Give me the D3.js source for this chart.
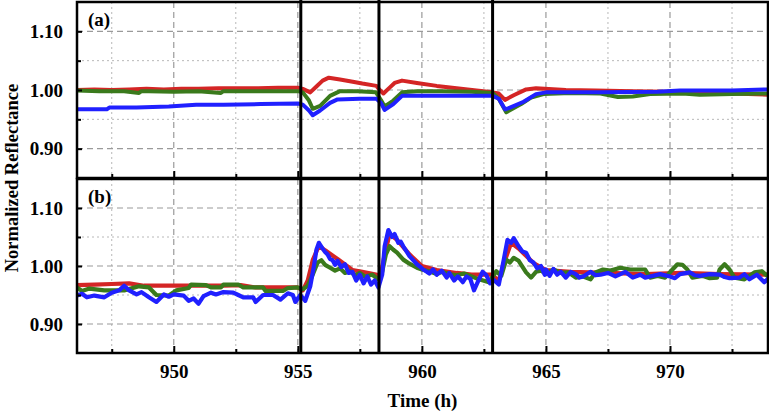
<!DOCTYPE html>
<html>
<head>
<meta charset="utf-8">
<style>
  body { margin: 0; background: #fff; }
  svg text { font-family: "Liberation Serif", "Times New Roman", serif; font-weight: bold; }
</style>
</head>
<body>
<div id="chart"></div>
<script src="https://cdn.jsdelivr.net/npm/d3@7"></script>
<script>
// ---- data (time in h, normalized reflectance) ----
var xMajor = [950, 955, 960, 965, 970];
var xMinor = [947.5, 952.5, 957.5, 962.5, 967.5, 972.5];
var yMajor = [0.90, 1.00, 1.10];
var yMinor = [0.95, 1.05];
var events = [955.12, 958.27, 962.85];
var panelLabels = ["(a)", "(b)"];

var redA = [[946.1,1.000],[946.8,1.001],[947.5,1.000],[948.2,1.001],[948.9,1.002],[949.6,1.001],[950.3,1.002],[951.0,1.002],[951.8,1.003],[952.6,1.003],[953.4,1.003],[954.2,1.004],[955.0,1.004],[955.2,1.002],[955.5,0.996],[955.75,1.006],[956.0,1.016],[956.25,1.021],[956.7,1.018],[957.1,1.015],[957.6,1.011],[958.17,1.007],[958.3,1.000],[958.45,0.994],[958.7,1.004],[958.9,1.012],[959.2,1.016],[959.8,1.012],[960.6,1.007],[961.4,1.003],[962.2,0.999],[962.85,0.996],[963.1,0.994],[963.35,0.983],[963.7,0.991],[964.2,1.001],[964.6,1.003],[965.8,1.000],[967,0.999],[968.5,0.998],[970,0.997],[971.2,0.996],[972.5,0.994],[973.95,0.992]];
var greenA = [[946.1,0.999],[947,0.998],[948,0.998],[948.6,0.995],[948.7,0.998],[949,0.998],[950,0.997],[951,0.998],[951.9,0.995],[952,0.998],[953,0.998],[954,0.998],[955.0,0.998],[955.2,0.996],[955.45,0.982],[955.6,0.968],[955.9,0.973],[956.3,0.990],[956.7,0.998],[957.4,0.998],[958.15,0.996],[958.35,0.983],[958.5,0.972],[958.85,0.982],[959.2,0.996],[959.8,0.998],[960.8,0.998],[962.0,0.997],[962.85,0.995],[963.1,0.985],[963.4,0.962],[964.0,0.976],[964.4,0.987],[964.9,0.993],[966,0.995],[967.2,0.994],[967.9,0.988],[968.5,0.989],[969.2,0.993],[970.5,0.994],[971.2,0.992],[972.5,0.993],[973.95,0.994]];
var blueA = [[946.1,0.967],[946.8,0.967],[947.3,0.967],[947.4,0.970],[948.5,0.970],[949.8,0.972],[950.9,0.975],[952,0.975],[953.5,0.976],[955.0,0.977],[955.2,0.975],[955.45,0.965],[955.6,0.957],[955.9,0.965],[956.3,0.978],[956.6,0.984],[957.5,0.985],[958.17,0.985],[958.35,0.978],[958.5,0.966],[958.85,0.976],[959.2,0.990],[960.5,0.990],[962,0.990],[962.85,0.990],[963.1,0.985],[963.35,0.967],[963.5,0.969],[964.1,0.980],[964.6,0.993],[965,0.996],[967.2,0.996],[969.5,0.997],[970.4,0.999],[972.5,0.999],[973.95,1.001]];

var redB = [[946.1,0.967],[946.8,0.968],[947.5,0.969],[948.2,0.970],[948.8,0.966],[950,0.966],[951,0.966],[952,0.966],[952.7,0.967],[953.3,0.963],[954.3,0.963],[955.0,0.963],[955.2,0.958],[955.4,0.975],[955.6,1.010],[955.85,1.035],[956.1,1.027],[956.6,1.012],[957.2,0.993],[957.6,0.990],[958.2,0.985],[958.3,0.975],[958.5,1.020],[958.7,1.055],[959.0,1.045],[959.5,1.020],[960.0,1.000],[960.6,0.993],[961.4,0.988],[962.0,0.985],[962.8,0.985],[963.1,0.975],[963.35,1.010],[963.6,1.040],[963.9,1.030],[964.5,1.005],[965,0.993],[966,0.990],[967.5,0.988],[969,0.986],[970.5,0.988],[972,0.986],[973.95,0.985]];
var greenB = [[946.1,0.963],[946.3,0.957],[946.6,0.961],[947.2,0.958],[948.0,0.958],[948.6,0.965],[949.0,0.963],[949.3,0.950],[949.8,0.949],[950.1,0.958],[950.6,0.962],[950.7,0.968],[951.3,0.967],[951.5,0.963],[951.9,0.963],[952.0,0.968],[952.6,0.968],[952.8,0.963],[953.6,0.963],[953.7,0.957],[954.4,0.957],[954.6,0.962],[955.0,0.963],[955.2,0.960],[955.4,0.966],[955.6,0.985],[955.8,1.006],[955.95,1.010],[956.1,1.002],[956.3,0.997],[956.5,0.992],[956.7,0.996],[956.9,0.988],[957.1,0.991],[957.3,0.984],[957.5,0.988],[957.7,0.982],[958.0,0.985],[958.25,0.977],[958.4,0.990],[958.55,1.020],[958.7,1.034],[958.85,1.028],[959.0,1.023],[959.25,1.011],[959.5,1.004],[959.8,0.997],[960.0,0.994],[960.3,0.991],[960.6,0.986],[960.8,0.990],[961.1,0.986],[961.4,0.984],[961.7,0.987],[961.95,0.983],[962.3,0.977],[962.7,0.972],[963.0,0.991],[963.2,0.983],[963.4,1.011],[963.55,1.006],[963.7,1.014],[963.9,1.009],[964.2,0.989],[964.4,0.980],[964.6,0.990],[964.8,0.992],[965.0,0.986],[965.3,0.994],[965.6,0.988],[965.9,0.989],[966.2,0.980],[966.5,0.982],[966.8,0.977],[967.0,0.989],[967.3,0.994],[967.6,0.992],[968.0,0.997],[968.4,0.994],[969.0,0.994],[969.2,0.980],[969.5,0.983],[969.8,0.980],[970.1,0.994],[970.3,1.003],[970.5,1.002],[970.7,0.994],[970.9,0.980],[971.3,0.983],[971.6,0.979],[971.9,0.980],[972.0,0.994],[972.2,1.003],[972.4,0.994],[972.6,0.980],[973.0,0.977],[973.4,0.989],[973.7,0.991],[973.95,0.982]];
var blueB = [[946.1,0.949],[946.3,0.952],[946.5,0.946],[946.8,0.949],[947.2,0.946],[947.5,0.954],[947.8,0.958],[948.0,0.966],[948.2,0.958],[948.5,0.951],[948.7,0.955],[949.0,0.946],[949.3,0.938],[949.6,0.951],[949.8,0.947],[950.0,0.951],[950.4,0.949],[950.6,0.940],[950.8,0.944],[951.0,0.935],[951.2,0.948],[951.5,0.954],[951.7,0.951],[952.0,0.955],[952.4,0.954],[952.6,0.950],[952.8,0.946],[953.2,0.946],[953.3,0.938],[953.6,0.950],[954.0,0.950],[954.3,0.942],[954.6,0.953],[954.8,0.950],[954.9,0.938],[955.1,0.950],[955.3,0.940],[955.5,0.965],[955.65,1.000],[955.75,1.028],[955.85,1.040],[956.0,1.030],[956.1,1.024],[956.2,1.020],[956.3,1.012],[956.4,1.010],[956.5,1.002],[956.6,1.009],[956.75,0.998],[956.9,1.003],[957.05,0.988],[957.2,0.990],[957.35,0.975],[957.5,0.985],[957.65,0.970],[957.8,0.982],[957.95,0.968],[958.1,0.975],[958.25,0.963],[958.4,0.985],[958.5,1.034],[958.65,1.062],[958.8,1.050],[958.9,1.055],[959.05,1.040],[959.15,1.042],[959.25,1.034],[959.4,1.024],[959.5,1.017],[959.65,1.010],[959.8,1.003],[959.95,0.998],[960.05,0.994],[960.2,0.990],[960.3,0.987],[960.45,0.994],[960.6,0.985],[960.8,0.992],[961.0,0.980],[961.1,0.988],[961.3,0.975],[961.45,0.982],[961.65,0.972],[961.8,0.982],[961.95,0.978],[962.1,0.958],[962.3,0.977],[962.45,0.990],[962.6,0.984],[962.75,0.970],[962.9,0.976],[963.1,0.968],[963.3,1.011],[963.45,1.045],[963.6,1.040],[963.7,1.048],[963.9,1.034],[964.05,1.025],[964.2,1.023],[964.35,1.010],[964.5,1.006],[964.65,0.996],[964.8,1.000],[964.95,0.985],[965.0,0.994],[965.15,0.983],[965.3,0.995],[965.45,0.985],[965.6,0.990],[965.8,0.980],[966.0,0.990],[966.2,0.986],[966.35,0.980],[966.5,0.982],[966.8,0.990],[967.0,0.984],[967.2,0.985],[967.5,0.988],[967.8,0.982],[968.0,0.986],[968.2,0.990],[968.5,0.980],[968.8,0.985],[969.0,0.980],[969.2,0.982],[969.6,0.986],[970.0,0.982],[970.2,0.979],[970.4,0.986],[970.8,0.989],[971.0,0.984],[971.2,0.983],[971.6,0.986],[972.0,0.985],[972.2,0.981],[972.4,0.979],[972.8,0.980],[973.0,0.986],[973.2,0.977],[973.5,0.985],[973.8,0.972],[973.95,0.978]];

var colors = { red: "#d42525", green: "#3a7a1c", blue: "#2020ff" };

// ---- layout ----
var W = 769, H = 414;
var left = 77, right = 768;
var panels = [
  { top: 2, bottom: 178, series: [redA, greenA, blueA], label: panelLabels[0] },
  { top: 179, bottom: 353, series: [redB, greenB, blueB], label: panelLabels[1] }
];

var svg = d3.select("#chart").append("svg")
    .attr("width", W)
    .attr("height", H);

var x = d3.scaleLinear().domain([946.1, 973.95]).range([left, right]);

var lineColors = [colors.red, colors.green, colors.blue];

panels.forEach(function (p, i) {
    var y = d3.scaleLinear().domain([0.85, 1.15]).range([p.bottom, p.top]);
    var g = svg.append("g");

    // clip
    svg.append("defs").append("clipPath").attr("id", "clip" + i)
      .append("rect")
        .attr("x", left).attr("y", p.top)
        .attr("width", right - left).attr("height", p.bottom - p.top);

    // minor grid (dotted)
    g.selectAll(".vmin").data(xMinor).enter().append("line")
        .attr("x1", function (d) { return x(d); }).attr("x2", function (d) { return x(d); })
        .attr("y1", p.top).attr("y2", p.bottom)
        .attr("stroke", "#b8b8b8").attr("stroke-width", 1).attr("stroke-dasharray", "2,3");
    g.selectAll(".hmin").data(yMinor).enter().append("line")
        .attr("x1", left).attr("x2", right)
        .attr("y1", function (d) { return y(d); }).attr("y2", function (d) { return y(d); })
        .attr("stroke", "#b8b8b8").attr("stroke-width", 1).attr("stroke-dasharray", "2,3");
    // major grid (dashed)
    g.selectAll(".vmaj").data(xMajor).enter().append("line")
        .attr("x1", function (d) { return x(d); }).attr("x2", function (d) { return x(d); })
        .attr("y1", p.top).attr("y2", p.bottom)
        .attr("stroke", "#9a9a9a").attr("stroke-width", 1.2).attr("stroke-dasharray", "6,4");
    g.selectAll(".hmaj").data(yMajor).enter().append("line")
        .attr("x1", left).attr("x2", right)
        .attr("y1", function (d) { return y(d); }).attr("y2", function (d) { return y(d); })
        .attr("stroke", "#9a9a9a").attr("stroke-width", 1.2).attr("stroke-dasharray", "6,4");

    // data lines
    var line = d3.line()
        .x(function (d) { return x(d[0]); })
        .y(function (d) { return y(d[1]); });
    var dg = g.append("g").attr("clip-path", "url(#clip" + i + ")");
    p.series.forEach(function (s, k) {
        dg.append("path")
            .attr("d", line(s))
            .attr("fill", "none")
            .attr("stroke", lineColors[k])
            .attr("stroke-width", i === 0 ? 4 : 4.2)
            .attr("stroke-linejoin", "round");
    });

    // axes: ticks inward
    var yAxis = d3.axisLeft(y).tickValues(yMajor).tickFormat(d3.format(".2f"))
        .tickSize(-5).tickPadding(14);
    var ya = g.append("g").attr("transform", "translate(" + left + ",0)").call(yAxis);
    var yMinAxis = d3.axisLeft(y).tickValues(yMinor).tickFormat("").tickSize(-4);
    var ym = g.append("g").attr("transform", "translate(" + left + ",0)").call(yMinAxis);

    var xAxis = d3.axisBottom(x).tickValues(xMajor).tickSize(-7).tickPadding(12)
        .tickFormat(i === 1 ? d3.format("d") : "");
    var xa = g.append("g").attr("transform", "translate(0," + p.bottom + ")").call(xAxis);
    var xMinAxis = d3.axisBottom(x).tickValues(xMinor).tickFormat("").tickSize(-4);
    var xm = g.append("g").attr("transform", "translate(0," + p.bottom + ")").call(xMinAxis);

    [ya, ym, xa, xm].forEach(function (a) {
        a.select(".domain").remove();
        a.selectAll(".tick line").attr("stroke", "#000").attr("stroke-width", 2);
        a.selectAll("text").attr("font-size", 19).attr("fill", "#000")
            .attr("font-family", "'Liberation Serif', 'Times New Roman', serif")
            .attr("font-weight", "bold");
    });

    // frame
    g.append("rect")
        .attr("x", left).attr("y", p.top)
        .attr("width", right - left).attr("height", p.bottom - p.top)
        .attr("fill", "none").attr("stroke", "#000").attr("stroke-width", 2.5);

    // panel label
    g.append("text")
        .attr("x", left + 11).attr("y", p.top + 24)
        .attr("font-size", 19).text(p.label);
});

// event lines across both panels
svg.selectAll(".ev").data(events).enter().append("line")
    .attr("x1", function (d) { return x(d); }).attr("x2", function (d) { return x(d); })
    .attr("y1", 0).attr("y2", 353)
    .attr("stroke", "#000").attr("stroke-width", 3);

// axis titles
svg.append("text")
    .attr("transform", "translate(18,178) rotate(-90)")
    .attr("text-anchor", "middle")
    .attr("font-size", 18.5)
    .text("Normalized Reflectance");
svg.append("text")
    .attr("x", (left + right) / 2).attr("y", 407)
    .attr("text-anchor", "middle")
    .attr("font-size", 19)
    .text("Time (h)");
</script>
</body>
</html>
